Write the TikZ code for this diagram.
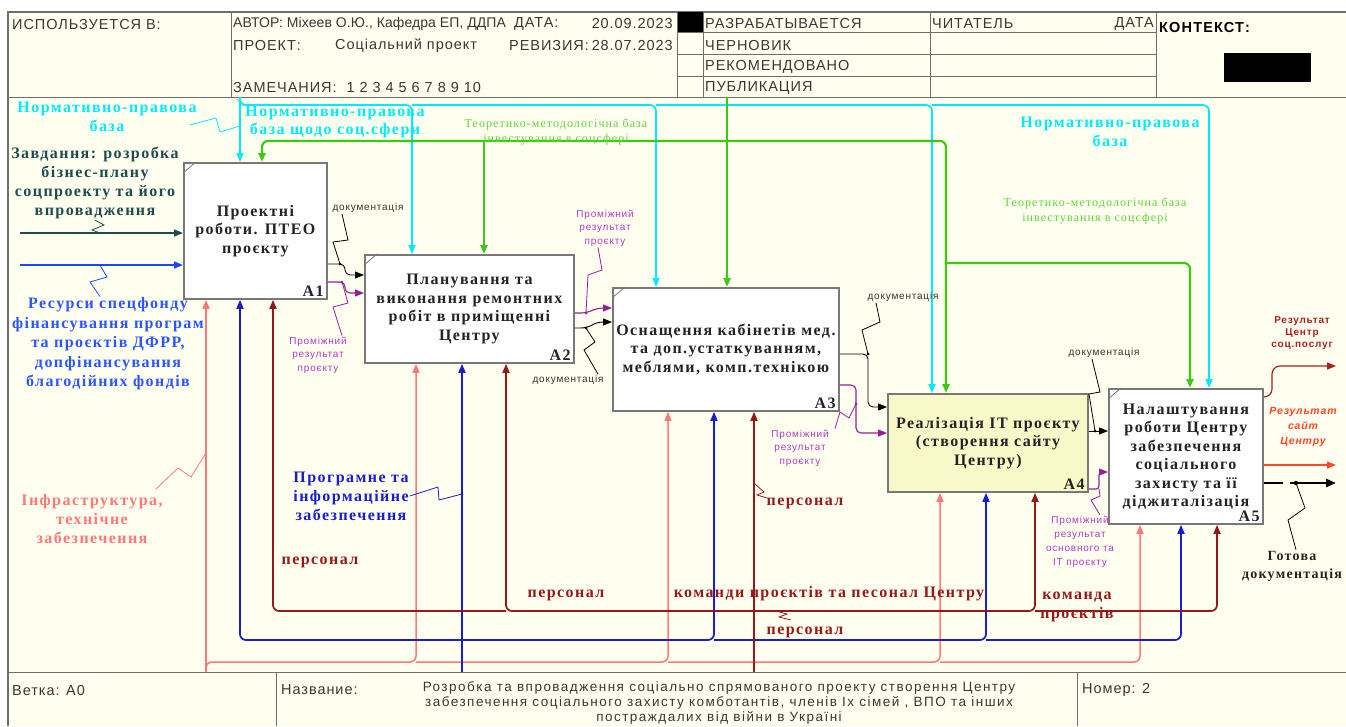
\documentclass[tikz,border=0pt]{standalone}
\usepackage{fontspec}
\setmainfont{Liberation Serif}
\newfontfamily\fSer[LetterSpace=9]{Liberation Serif}
\newfontfamily\fSan[LetterSpace=8]{Liberation Sans}
\newfontfamily\fHdr[LetterSpace=6.5]{Liberation Sans}
\newfontfamily\fHdrN[LetterSpace=0.5]{Liberation Sans}
\newfontfamily\fFtr[LetterSpace=11]{Liberation Sans}
\newfontfamily\fPlain[LetterSpace=8]{Liberation Sans}
\usetikzlibrary{arrows.meta,calc}
\definecolor{bgc}{RGB}{255,255,240}
\definecolor{framec}{RGB}{110,110,110}
\definecolor{hdrtext}{RGB}{55,55,55}
\definecolor{cyc}{RGB}{0,235,250}
\definecolor{grc}{RGB}{60,200,20}
\definecolor{grt}{RGB}{95,210,60}
\definecolor{tealc}{RGB}{30,75,75}
\definecolor{bluein}{RGB}{30,70,255}
\definecolor{bluelab}{RGB}{45,85,255}
\definecolor{blueb}{RGB}{25,30,205}
\definecolor{pinkc}{RGB}{255,120,120}
\definecolor{dredc}{RGB}{150,25,25}
\definecolor{purc}{RGB}{150,30,150}
\definecolor{purt}{RGB}{175,60,195}
\definecolor{resa}{RGB}{170,30,30}
\definecolor{resb}{RGB}{255,70,40}
\definecolor{afill}{RGB}{248,248,200}
\definecolor{boxb}{RGB}{120,120,120}
\definecolor{boxt}{RGB}{35,35,35}
\tikzset{
  tipa/.style={-{Triangle[length=9pt,width=7pt]}},
  hl/.style={draw=framec, line width=1pt},
  ht/.style={anchor=west, inner sep=1pt, text=hdrtext, font=\fHdr\fontsize{14.5}{16}\selectfont},
  idbox/.style={draw=boxb, line width=1.8pt, fill=white, inner sep=2pt, align=center, anchor=north west, text=boxt, font=\fSer\bfseries\fontsize{16}{18.5}\selectfont},
  alab/.style={anchor=south east, inner sep=1pt, text=boxt, font=\fSer\bfseries\fontsize{16}{16}\selectfont},
  lab/.style={align=center, inner sep=1pt, font=\fSer\bfseries\fontsize{16}{19}\selectfont},
  small/.style={align=center, inner sep=1pt, font=\fSan\fontsize{10}{13.5}\selectfont},
  cyA/.style={draw=cyc, line width=1.7pt, rounded corners=6pt, tipa},
  grA/.style={draw=grc, line width=2.2pt, rounded corners=6pt, tipa},
  tlA/.style={draw=tealc, line width=1.8pt, tipa},
  biA/.style={draw=bluein, line width=1.8pt, tipa},
  bkA/.style={draw=black, line width=0.9pt, rounded corners=5pt, tipa},
  puA/.style={draw=purc, line width=1.1pt, rounded corners=5pt, tipa},
  pkA/.style={draw=pinkc, line width=1.5pt, rounded corners=6pt, tipa},
  buA/.style={draw=blueb, line width=1.7pt, rounded corners=6pt, tipa},
  rdA/.style={draw=dredc, line width=1.7pt, rounded corners=6pt, tipa},
  sq/.style={line width=0.8pt},
}
\begin{document}
\begin{tikzpicture}[x=1pt,y=-1pt]
\useasboundingbox (0,0) rectangle (1346,726);
\fill[white] (0,0) rectangle (1346,726);
\fill[bgc] (8,12) rectangle (1346,726);
% frame and header grid
\draw[framec, line width=1.4pt] (8,726) -- (8,12) -- (1346,12);
\draw[hl] (8,97) -- (1346,97);
\draw[hl] (231,12) -- (231,97);
\draw[hl] (677,12) -- (677,97);
\draw[hl] (703,12) -- (703,97);
\draw[hl] (930,12) -- (930,97);
\draw[hl] (1156,12) -- (1156,97);
\draw[hl] (677,32) -- (1156,32);
\draw[hl] (677,54) -- (1156,54);
\draw[hl] (677,76) -- (1156,76);
\fill[black] (678,12) rectangle (703,32);
\fill[black] (1224,53) rectangle (1311,82);
\draw[hl] (8,672) -- (1346,672);
\draw[hl] (276,672) -- (276,726);
\draw[hl] (1077,672) -- (1077,726);
% header texts
\node[ht] (h1) at (11,25) {ИСПОЛЬЗУЕТСЯ В:};
\node[ht, font=\fHdrN\fontsize{14}{16}\selectfont] (h2) at (232,24) {АВТОР: Міхеев О.Ю., Кафедра ЕП, ДДПА};
\node[ht] (h3) at (513,24) {ДАТА:};
\node[ht, anchor=east] (h4) at (674,24) {20.09.2023};
\node[ht] (h5) at (232,46) {ПРОЕКТ:};
\node[ht] (h6) at (334,46) {Соціальний проект};
\node[ht] (h7) at (508,46) {РЕВИЗИЯ:};
\node[ht, anchor=east] (h8) at (674,46) {28.07.2023};
\node[ht] (h9) at (232,88) {ЗАМЕЧАНИЯ:\ \ 1 2 3 4 5 6 7 8 9 10};
\node[ht] (h10) at (704,24) {РАЗРАБАТЫВАЕТСЯ};
\node[ht] (h11) at (704,46) {ЧЕРНОВИК};
\node[ht] (h12) at (704,67) {РЕКОМЕНДОВАНО};
\node[ht] (h13) at (704,88) {ПУБЛИКАЦИЯ};
\node[ht] (h14) at (931,24) {ЧИТАТЕЛЬ};
\node[ht, anchor=east] (h15) at (1155,24) {ДАТА};
\node[anchor=west, inner sep=1pt, font=\fPlain\bfseries\fontsize{14.5}{16}\selectfont] (h16) at (1158,28) {КОНТЕКСТ:};
% footer texts
\node[ht] (f1) at (11,690) {Ветка: A0};
\node[ht] (f2) at (280,690) {Название:};
\node[ht, anchor=center, align=center, font=\fFtr\fontsize{13.5}{15}\selectfont] (f3) at (719,703) {Розробка та впровадження соціально спрямованого проекту створення Центру\\забезпечення соціального захисту комботантів, членів Іх сімей , ВПО та інших\\постраждалих від війни в Україні};
\node[ht] (f4) at (1081,690) {Номер: 2};
% boxes
\node[idbox, minimum width=143pt, minimum height=136pt] (a1) at (183,162) {Проектні\\роботи. ПТЕО\\проєкту};
\node[idbox, minimum width=209pt, minimum height=108pt] (a2) at (364,254) {Планування та\\виконання ремонтних\\робіт в приміщенні\\Центру};
\node[idbox, minimum width=226pt, minimum height=123pt] (a3) at (612,287) {Оснащення кабінетів мед.\\та доп.устаткуванням,\\меблями, комп.технікою};
\node[idbox, fill=afill, minimum width=200pt, minimum height=98pt] (a4) at (887,393) {Реалізація ІТ проєкту\\(створення сайту\\Центру)};
\node[idbox, minimum width=154pt, minimum height=135pt] (a5) at (1108,388) {Налаштування\\роботи Центру\\забезпечення\\соціального\\захисту та її\\діджиталізація};
\foreach \b in {a1,a2,a3,a5} {
  \draw[boxb, line width=0.8pt] ([yshift=-11pt]\b.north west) -- ([xshift=13pt]\b.north west);
}
\node[alab] (n1) at ([shift={(-3,-2)}]a1.south east) {A1};
\node[alab] (n2) at ([shift={(-3,-2)}]a2.south east) {A2};
\node[alab] (n3) at ([shift={(-3,-2)}]a3.south east) {A3};
\node[alab] (n4) at ([shift={(-3,-2)}]a4.south east) {A4};
\node[alab] (n5) at ([shift={(-3,-2)}]a5.south east) {A5};
% ---------- controls: cyan
\coordinate (cyS) at (240,97);
\coordinate (cyJ) at (240,105);
\coordinate (cy2) at (412,105);
\coordinate (cy3) at (656,105);
\coordinate (cy4) at (932,105);
\coordinate (cy5) at (1209,105);
\draw[cyA] (cyS) -- (cyS |- a1.north);
\draw[cyA] (cyS) -- (cyJ) -- (cy2) -- (cy2 |- a2.north);
\draw[cyA] (cy2) -- (cy3) -- (cy3 |- a3.north);
\draw[cyA] (cy3) -- (cy4) -- (cy4 |- a4.north);
\draw[cyA] (cy4) -- (cy5) -- (cy5 |- a5.north);
% ---------- controls: green
\coordinate (gS) at (727,97);
\coordinate (gJ) at (727,141);
\coordinate (g1) at (262,141);
\coordinate (g2) at (484,141);
\coordinate (g4) at (946,141);
\coordinate (g45) at (946,263);
\coordinate (g5) at (1190,263);
\draw[grA] (gS) -- (gS |- a3.north);
\draw[grA] (gJ) -- (g1) -- (g1 |- a1.north);
\draw[grA] (g2) -- (g2 |- a2.north);
\draw[grA] (gJ) -- (g4) -- (g4 |- a4.north);
\draw[grA] (g45) -- (g5) -- (g5 |- a5.north);
% ---------- inputs of A1
\coordinate (tS) at (20,233);
\coordinate (bS) at (20,265);
\draw[tlA] (tS) -- (tS -| a1.west);
\draw[biA] (bS) -- (bS -| a1.west);
% ---------- A1 -> A2
\coordinate (k1) at (345,264);
\coordinate (k2) at (345,275);
\draw[bkA] (k1 -| a1.east) -- (k1) -- (k2) -- (k2 -| a2.west);
\coordinate (pk1) at (345,282);
\coordinate (pk2) at (345,293);
\draw[puA] (pk1 -| a1.east) -- (pk1) -- (pk2) -- (pk2 -| a2.west);
% ---------- A2 -> A3
\coordinate (m1) at (586,313);
\coordinate (m2) at (598,308);
\draw[puA] (m1 -| a2.east) -- (m1) -- (m2) -- (m2 -| a3.west);
\coordinate (nn1) at (586,328);
\coordinate (nn2) at (598,322);
\draw[bkA] (nn1 -| a2.east) -- (nn1) -- (nn2) -- (nn2 -| a3.west);
% ---------- A3 -> A4
\coordinate (q1) at (868,354);
\coordinate (q2) at (868,407);
\draw[bkA] (q1 -| a3.east) -- (q1) -- (q2) -- (q2 -| a4.west);
\coordinate (s1) at (856,385);
\coordinate (s2) at (856,433);
\draw[puA] (s1 -| a3.east) -- (s1) -- (s2) -- (s2 -| a4.west);
% ---------- A4 -> A5
\coordinate (u1) at (1095,431);
\draw[bkA] (u1 -| a4.east) -- (u1 -| a5.west);
\coordinate (v1) at (1099,489);
\coordinate (v2) at (1099,472);
\draw[puA, rounded corners=3pt] (v1 -| a4.east) -- (v1) -- (v2) -- (v2 -| a5.west);
% ---------- outputs of A5
\coordinate (o1a) at (1272,397);
\coordinate (o1b) at (1272,366);
\coordinate (o1e) at (1336,366);
\draw[draw=resa, line width=1.2pt, rounded corners=8pt, tipa] (o1a -| a5.east) -- (o1a) -- (o1b) -- (o1e);
\coordinate (o2e) at (1336,465);
\draw[draw=resb, line width=1.4pt, tipa] (o2e -| a5.east) -- (o2e);
\coordinate (o3a) at (1283,483);
\coordinate (o3b) at (1290,483);
\coordinate (o3d) at (1296,483);
\coordinate (o3e) at (1336,483);
\draw[black, line width=2.6pt] (o3a -| a5.east) -- (o3a);
\draw[black, line width=2.6pt, -{Triangle[length=10pt,width=8pt]}] (o3b) -- (o3e);
% ---------- mechanisms: pink
\coordinate (pS) at (206,672);
\coordinate (p0) at (206,662);
\coordinate (p2) at (416,662);
\coordinate (p3) at (668,662);
\coordinate (p4) at (940,662);
\coordinate (p5) at (1140,662);
\draw[pkA] (pS) -- (pS |- a1.south);
\draw[pkA] (pS) -- (p0) -- (p2) -- (p2 |- a2.south);
\draw[pkA] (p2) -- (p3) -- (p3 |- a3.south);
\draw[pkA] (p3) -- (p4) -- (p4 |- a4.south);
\draw[pkA] (p4) -- (p5) -- (p5 |- a5.south);
% ---------- mechanisms: blue
\coordinate (bS2) at (462,672);
\coordinate (bJ) at (462,640);
\coordinate (b1) at (240,640);
\coordinate (b3) at (714,640);
\coordinate (b4) at (986,640);
\coordinate (b5) at (1181,640);
\draw[buA] (bS2) -- (bS2 |- a2.south);
\draw[buA] (bJ) -- (b1) -- (b1 |- a1.south);
\draw[buA] (bJ) -- (b3) -- (b3 |- a3.south);
\draw[buA] (b3) -- (b4) -- (b4 |- a4.south);
\draw[buA] (b4) -- (b5) -- (b5 |- a5.south);
% ---------- mechanisms: dark red
\coordinate (rS) at (754,672);
\coordinate (rJ) at (754,611);
\coordinate (r1) at (273,611);
\coordinate (r2) at (506,611);
\coordinate (r4) at (1035,611);
\coordinate (r5) at (1217,611);
\draw[rdA] (rS) -- (rS |- a3.south);
\draw[rdA] (rJ) -- (r2) -- (r2 |- a2.south);
\draw[rdA] (r2) -- (r1) -- (r1 |- a1.south);
\draw[rdA] (rJ) -- (r4) -- (r4 |- a4.south);
\draw[rdA] (r4) -- (r5) -- (r5 |- a5.south);
% ---------- labels
\node[lab, text=cyc] (cL1) at (107,117) {Нормативно-правова\\база};
\node[lab, text=cyc, font=\fSer\bfseries\fontsize{16}{18}\selectfont] (cL2) at (335,122) {Нормативно-правова\\база щодо соц.сфери};
\node[lab, text=cyc] (cL3) at (1110,132) {Нормативно-правова\\база};
\node[align=center, inner sep=1pt, text=grt, font=\fSer\fontsize{12}{15}\selectfont] (gL1) at (556,132) {Теоретико-методологічна база\\інвестування в соцсфері};
\node[align=center, inner sep=1pt, text=grt, font=\fSer\fontsize{12}{15}\selectfont] (gL2) at (1095,211) {Теоретико-методологічна база\\інвестування в соцсфері};
\node[lab, text=tealc] (tL) at (95,183) {Завдання: розробка\\бізнес-плану\\соцпроекту та його\\впровадження};
\node[lab, text=bluelab, font=\fSer\bfseries\fontsize{16}{19.5}\selectfont] (bL) at (108,344) {Ресурси спецфонду\\фінансування програм\\та проєктів ДФРР,\\допфінансування\\благодійних фондів};
\node[lab, text=pinkc] (pkL) at (92,519) {Інфраструктура,\\технічне\\забезпечення};
\node[lab, text=blueb] (buL) at (351,496) {Програмне та\\інформаційне\\забезпечення};
\node[lab, text=dredc] (rL1) at (320,562) {персонал};
\node[lab, text=dredc] (rL2) at (566,595) {персонал};
\node[lab, text=dredc] (rL3) at (829,594) {команди проєктів та песонал Центру};
\node[lab, text=dredc] (rL4) at (1077,607) {команда\\проєктів};
\node[lab, text=dredc] (rL5) at (805,632) {персонал};
\node[lab, text=dredc] (rL6) at (805,503) {персонал};
\node[small, text=black!80] (dL1) at (368,208) {документація};
\node[small, text=purt] (pL1) at (318,355) {Проміжний\\результат\\проєкту};
\node[small, text=purt] (pL2) at (605,228) {Проміжний\\результат\\проєкту};
\node[small, text=black!80] (dL2) at (568,380) {документація};
\node[small, text=black!80] (dL3) at (903,297) {документація};
\node[small, text=purt] (pL3) at (800,448) {Проміжний\\результат\\проєкту};
\node[small, text=black!80] (dL4) at (1104,353) {документація};
\node[small, text=purt, font=\fSan\fontsize{10}{14}\selectfont] (pL4) at (1080,542) {Проміжний\\результат\\основного та\\ІТ проєкту};
\node[align=center, inner sep=1pt, text=resa, font=\fSan\bfseries\fontsize{10}{12}\selectfont] (oL1) at (1302,333) {Результат\\Центр\\соц.послуг};
\node[align=center, inner sep=1pt, text=resb, font=\fSan\bfseries\itshape\fontsize{10.5}{15}\selectfont] (oL2) at (1303,427) {Результат\\сайт\\Центру};
\node[align=center, inner sep=1pt, text=boxt, font=\fSer\bfseries\fontsize{14}{18}\selectfont] (oL3) at (1292,566) {Готова\\документація};
% ---------- squiggles
\coordinate (cyQ) at (240,126);
\draw[cyc, sq] ([shift={(-8,8)}]cL1.east) -- (216,118) -- (220,132) -- (cyQ);
\draw[cyc, sq] (237,99) -- (244,106);
\coordinate (tQ) at (100,233);
\draw[tealc, sq] (tL.south) -- (104,225) -- (92,230) -- (tQ);
\coordinate (bQ) at (100,265);
\draw[bluein, sq] ([xshift=-8pt]bL.north) -- (90,282) -- (107,277) -- (bQ);
\coordinate (kq1) at (340,264);
\draw[black, sq] ([xshift=-26pt]dL1.south) -- (348,240) -- (333,242) -- (kq1);
\fill[black] (kq1) circle (1.5pt);
\coordinate (pq1) at (342,282);
\draw[purc, sq] ([xshift=24pt]pL1.north) -- (333,307) -- (348,303) -- (pq1);
\fill[purc] (pq1) circle (1.5pt);
\draw[purc, sq] ([xshift=-7pt]pL2.south) -- (602,270) -- (588,275) -- (m1);
\fill[purc] (m1) circle (1.5pt);
\draw[black, sq] (nn1) -- (595,342) -- (584,350) -- ([xshift=30pt]dL2.north);
\fill[black] (nn1) circle (1.5pt);
\draw[black, sq] ([xshift=-27pt]dL3.south) -- (880,322) -- (862,330) -- (q1);
\fill[black] (q1) circle (1.5pt);
\coordinate (sq3) at (856,404);
\draw[purc, sq] ([xshift=35pt]pL3.north) -- (840,412) -- (849,418) -- (sq3);
\fill[purc] (sq3) circle (1.5pt);
\draw[black, sq] ([xshift=-12pt]dL4.south) -- (1100,392) -- (1089,394) -- (u1);
\fill[black] (u1) circle (1.5pt);
\draw[purc, sq] ([xshift=20pt]pL4.north) -- (1091,500) -- (1100,496) -- (v1);
\draw[black, sq] (o3d) -- (1305,508) -- (1288,520) -- ([xshift=4pt]oL3.north);
\fill[black] (o3d) circle (2.2pt);
\coordinate (pq) at (206,453);
\draw[pinkc, sq] ([shift={(-8,-4)}]pkL.north east) -- (178,468) -- (191,477) -- (pq);
\coordinate (bq) at (462,494);
\draw[blueb, sq] (buL.east) -- (438,487) -- (439,500) -- (bq);
\fill[blueb] (bq) circle (1.5pt);
\coordinate (rq1) at (755,484);
\draw[dredc, sq] (rq1) -- (764,492) -- (757,495) -- (767,498);
\coordinate (rq2) at (776,611);
\draw[dredc, sq] (rq2) -- (787,614) -- (779,617) -- (791,620);
\end{tikzpicture}
\end{document}
